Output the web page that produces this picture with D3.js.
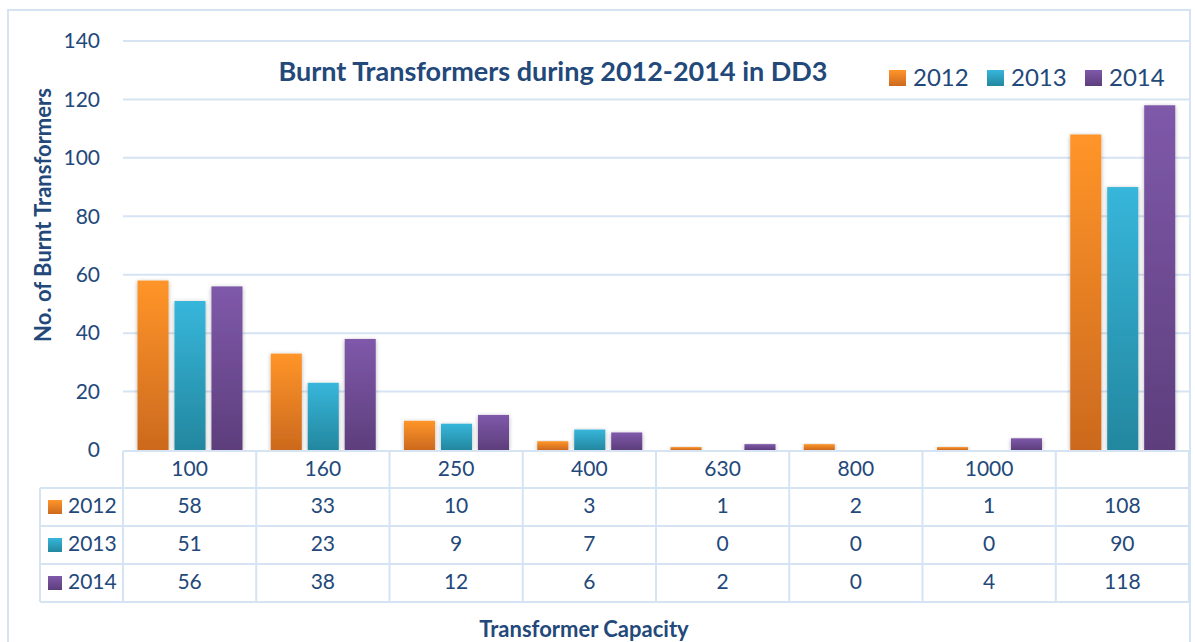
<!DOCTYPE html>
<html>
<head>
<meta charset="utf-8">
<script src="https://cdn.jsdelivr.net/npm/d3@7"></script>
<style>
  html, body { margin: 0; padding: 0; background: #fff; }
  svg text { font-family: Lato, "Open Sans", sans-serif; fill: #23487A; }
</style>
</head>
<body>
<div id="chart"></div>
<script>
const categories = ["100", "160", "250", "400", "630", "800", "1000", ""];
const series = ["2012", "2013", "2014"];
const values2012 = [58, 33, 10, 3, 1, 2, 1, 108];
const values2013 = [51, 23, 9, 7, 0, 0, 0, 90];
const values2014 = [56, 38, 12, 6, 2, 0, 4, 118];
const yTicks = [0, 20, 40, 60, 80, 100, 120, 140];

const title = 'Burnt Transformers during 2012-2014 in DD3';
const fullWidth = 1195;
const fullHeight = 642;
const lineColor = '#D6E3F3';
const plot = { left: 123, right: 1189, top: 41, bottom: 450 };
const table = { left: 40, top: 451, headH: 37, rowH: 38 };

const seriesValues = [values2012, values2013, values2014];
const colors = [
  { top: '#FF9529', bottom: '#CC691E' },
  { top: '#37B6DB', bottom: '#23879F' },
  { top: '#7F59AA', bottom: '#5D3E7C' }
];

const svg = d3.select('#chart')
  .append('svg')
  .attr('width', fullWidth)
  .attr('height', fullHeight);

const defs = svg.append('defs');
colors.forEach((c, i) => {
  const g = defs.append('linearGradient')
    .attr('id', `grad${i}`)
    .attr('x1', 0).attr('y1', 0).attr('x2', 0).attr('y2', 1);
  g.append('stop').attr('offset', '0%').attr('stop-color', c.top);
  g.append('stop').attr('offset', '100%').attr('stop-color', c.bottom);
});
const shadow = defs.append('filter')
  .attr('id', 'shadow')
  .attr('x', '-30%').attr('y', '-10%').attr('width', '160%').attr('height', '130%');
shadow.append('feDropShadow')
  .attr('dx', 0).attr('dy', 1)
  .attr('stdDeviation', 2.2)
  .attr('flood-color', '#000')
  .attr('flood-opacity', 0.3);

// outer frame
svg.append('rect')
  .attr('x', 8).attr('y', 10)
  .attr('width', 1182).attr('height', 700)
  .attr('fill', 'none')
  .attr('stroke', lineColor)
  .attr('stroke-width', 2);

const yScale = d3.scaleLinear()
  .domain([0, 140])
  .range([plot.bottom, plot.top]);

const xScale = d3.scaleBand()
  .domain(categories.map((d, i) => i))
  .range([plot.left, plot.right]);

const xInner = d3.scaleBand()
  .domain(series)
  .range([14.5, 119.5])
  .paddingInner(0.16);

// gridlines
svg.append('g')
  .selectAll('line')
  .data(yTicks.filter(t => t > 0))
  .join('line')
  .attr('x1', plot.left)
  .attr('x2', 1190)
  .attr('y1', d => yScale(d))
  .attr('y2', d => yScale(d))
  .attr('stroke', lineColor)
  .attr('stroke-width', 2);

// y axis labels
const yAxis = d3.axisLeft(yScale)
  .tickValues(yTicks)
  .tickSize(0)
  .tickPadding(0);
const yAxisG = svg.append('g')
  .attr('transform', 'translate(100, 0)')
  .call(yAxis);
yAxisG.select('.domain').remove();
yAxisG.selectAll('text')
  .attr('font-size', 21)
  .attr('font-family', 'Lato, sans-serif')
  .attr('fill', '#23487A');

// bars
const groups = svg.append('g')
  .selectAll('g')
  .data(categories.map((c, i) => i))
  .join('g')
  .attr('transform', i => `translate(${xScale(i)}, 0)`);

groups.selectAll('rect')
  .data(i => series.map((s, k) => ({ s, k, v: seriesValues[k][i] })).filter(d => d.v > 0))
  .join('rect')
  .attr('x', d => xInner(d.s))
  .attr('width', xInner.bandwidth())
  .attr('y', d => yScale(d.v))
  .attr('height', d => yScale(0) - yScale(d.v))
  .attr('fill', d => `url(#grad${d.k})`)
  .attr('filter', 'url(#shadow)');

// data table
const tbl = svg.append('g');
const rowY = k => table.top + table.headH + k * table.rowH;
const tableBottom = rowY(series.length);

tbl.append('rect')
  .attr('x', plot.left).attr('y', table.top)
  .attr('width', plot.right - plot.left).attr('height', table.headH)
  .attr('fill', '#fff');

tbl.append('line')
  .attr('x1', plot.left).attr('x2', plot.right)
  .attr('y1', table.top).attr('y2', table.top)
  .attr('stroke', lineColor).attr('stroke-width', 2);

tbl.selectAll('.hline')
  .data(d3.range(series.length + 1))
  .join('line')
  .attr('class', 'hline')
  .attr('x1', table.left).attr('x2', plot.right)
  .attr('y1', k => rowY(k)).attr('y2', k => rowY(k))
  .attr('stroke', lineColor).attr('stroke-width', 2);

tbl.selectAll('.vline')
  .data(d3.range(categories.length + 1))
  .join('line')
  .attr('class', 'vline')
  .attr('x1', i => plot.left + i * xScale.bandwidth())
  .attr('x2', i => plot.left + i * xScale.bandwidth())
  .attr('y1', table.top).attr('y2', tableBottom)
  .attr('stroke', lineColor).attr('stroke-width', 2);

tbl.append('line')
  .attr('x1', table.left).attr('x2', table.left)
  .attr('y1', rowY(0)).attr('y2', tableBottom)
  .attr('stroke', lineColor).attr('stroke-width', 2);

tbl.selectAll('.head')
  .data(categories)
  .join('text')
  .attr('class', 'head')
  .attr('x', (d, i) => xScale(i) + xScale.bandwidth() / 2)
  .attr('y', table.top + table.headH / 2 + 1)
  .attr('text-anchor', 'middle')
  .attr('dominant-baseline', 'middle')
  .attr('font-size', 21)
  .text(d => d);

series.forEach((s, k) => {
  const cy = rowY(k) + table.rowH / 2;
  tbl.append('rect')
    .attr('x', 48).attr('y', cy - 7)
    .attr('width', 14).attr('height', 14)
    .attr('fill', `url(#grad${k})`);
  tbl.append('text')
    .attr('x', 68).attr('y', cy + 1)
    .attr('dominant-baseline', 'middle')
    .attr('font-size', 21)
    .text(s);
  tbl.selectAll(`.val${k}`)
    .data(seriesValues[k])
    .join('text')
    .attr('class', `val${k}`)
    .attr('x', (d, i) => xScale(i) + xScale.bandwidth() / 2)
    .attr('y', cy + 1)
    .attr('text-anchor', 'middle')
    .attr('dominant-baseline', 'middle')
    .attr('font-size', 21)
    .text(d => d);
});

// title
svg.append('text')
  .attr('x', 553)
  .attr('y', 81)
  .attr('text-anchor', 'middle')
  .attr('font-size', 27)
  .attr('font-weight', 'bold')
  .text(title);

// legend
const legend = svg.append('g')
  .selectAll('g')
  .data(series)
  .join('g')
  .attr('transform', (d, k) => `translate(${889 + k * 98}, 70)`);
legend.append('rect')
  .attr('width', 17).attr('height', 16)
  .attr('fill', (d, k) => `url(#grad${k})`);
legend.append('text')
  .attr('x', 24).attr('y', 16)
  .attr('font-size', 24)
  .text(d => d);

// axis titles
svg.append('text')
  .attr('x', 584)
  .attr('y', 637)
  .attr('text-anchor', 'middle')
  .attr('font-size', 22)
  .attr('font-weight', 'bold')
  .text('Transformer Capacity');

svg.append('text')
  .attr('transform', 'translate(51, 215) rotate(-90)')
  .attr('text-anchor', 'middle')
  .attr('font-size', 22)
  .attr('font-weight', 'bold')
  .text('No. of Burnt Transformers');
</script>
</body>
</html>
